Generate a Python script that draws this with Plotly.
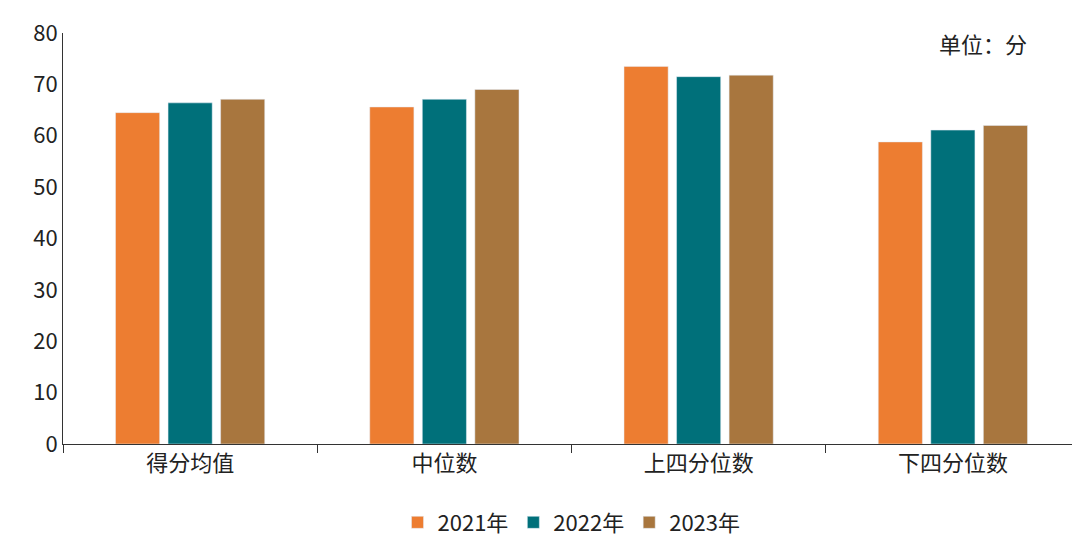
import plotly.graph_objects as go

categories = ["得分均值", "中位数", "上四分位数", "下四分位数"]
years = ["2021年", "2022年", "2023年"]
v2021 = [64.5, 65.6, 73.5, 58.8]
v2022 = [66.4, 67.1, 71.5, 61.1]
v2023 = [67.1, 69.0, 71.8, 62.0]
colors = ["#ED7D31", "#00707A", "#A8763E"]

fig = go.Figure()
for name, vals, c in zip(years, [v2021, v2022, v2023], colors):
    fig.add_trace(go.Bar(x=categories, y=vals, name=name, marker_color=c))

fig.update_layout(
    width=1080, height=543, plot_bgcolor="white", paper_bgcolor="white",
    font=dict(family="Noto Sans CJK SC", size=22, color="#222"),
    margin=dict(l=55, r=8, t=25, b=95),
    bargap=0.38, bargroupgap=0.16,
    legend=dict(orientation="h", x=0.5, xanchor="center", y=-0.14, yanchor="top",
                font=dict(size=22), itemwidth=30),
    yaxis=dict(range=[0, 80], dtick=10, showgrid=False, showline=True,
               linecolor="#333", ticks="outside", ticklen=0, tickfont=dict(size=22)),
    xaxis=dict(showline=True, linecolor="#333", ticks="outside", tickcolor="#333",
               ticklen=8, tickson="boundaries", tickfont=dict(size=22)),
    annotations=[dict(text="单位：分", xref="paper", yref="paper", x=0.95, y=1.02,
                      showarrow=False, xanchor="right", yanchor="top", font=dict(size=22))],
)
fig.write_html("out.html")
